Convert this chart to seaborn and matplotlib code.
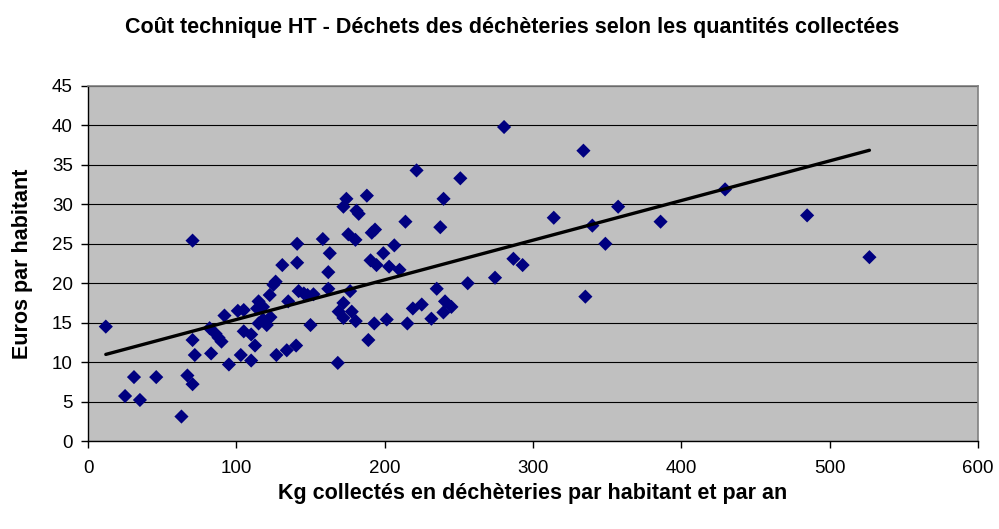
import matplotlib
matplotlib.use("Agg")
import matplotlib.pyplot as plt
import seaborn as sns
import pandas as pd

kg_collectes = [12, 25, 31, 35, 46, 63, 67, 70.5, 70.5, 70.5, 72, 83, 82, 86, 88, 90, 92, 95,
                101, 103, 105, 105, 110, 110, 112.6, 114, 115, 115, 118, 118, 120.5, 122.5, 123,
                125, 126.5, 127, 131, 134, 135, 140.3, 141, 141, 142, 145.5, 148, 150, 152,
                158.3, 162, 162, 163, 168.4, 169, 172.2, 172.2, 172.2, 174.2, 175.5, 176.7,
                177.8, 180.3, 180.5, 181, 182.5, 188, 189, 190.5, 191.3, 193, 193.5, 194.5,
                199.1, 201.4, 203, 206.5, 210, 214, 215.3, 219, 221.5, 225, 231.5, 235.1,
                237.5, 239.7, 239.6, 240.7, 245, 251, 256, 274.4, 280.5, 286.8, 293, 314,
                334, 335.3, 340, 348.8, 357.4, 386, 429.5, 484.8, 526.8]
euros_hab = [14.5, 5.7, 8.1, 5.2, 8.1, 3.1, 8.3, 25.4, 12.8, 7.2, 10.9, 11.1, 14.3, 13.6, 13.1,
             12.6, 15.9, 9.7, 16.5, 10.9, 16.6, 13.9, 13.5, 10.2, 12.1, 16.8, 17.7, 14.9, 17.0,
             15.4, 14.7, 18.5, 15.7, 19.8, 20.2, 10.9, 22.3, 11.5, 17.7, 12.1, 25.0, 22.6,
             19.0, 18.7, 18.5, 14.7, 18.6, 25.6, 19.3, 21.4, 23.8, 9.9, 16.4, 17.5, 15.6,
             29.7, 30.7, 26.2, 19.0, 16.4, 25.5, 15.2, 29.2, 28.8, 31.1, 12.8, 22.9, 26.4,
             14.9, 26.8, 22.3, 23.8, 15.4, 22.1, 24.8, 21.7, 27.8, 14.9, 16.8, 34.3, 17.3,
             15.5, 19.3, 27.1, 30.7, 16.3, 17.7, 17.0, 33.3, 20.0, 20.7, 39.8, 23.1, 22.3,
             28.3, 36.8, 18.3, 27.3, 25.0, 29.7, 27.8, 31.9, 28.6, 23.3]

x_ticks = [0, 100, 200, 300, 400, 500, 600]
y_ticks = [0, 5, 10, 15, 20, 25, 30, 35, 40, 45]

titre = "Coût technique HT - Déchets des déchèteries selon les quantités collectées"
label_x = "Kg collectés en déchèteries par habitant et par an"
label_y = "Euros par habitant"

df = pd.DataFrame({"kg": kg_collectes, "eur": euros_hab})

sns.set_theme(style="white")
plt.rcParams["font.family"] = ["Liberation Sans", "DejaVu Sans"]
plt.rcParams["text.color"] = "black"
plt.rcParams["axes.labelcolor"] = "black"

fig = plt.figure(figsize=(9.99, 5.29), dpi=100)
fig.patch.set_facecolor("white")
ax = fig.add_axes([88 / 999, 1 - 441 / 529, (978 - 88) / 999, (441 - 86) / 529])
ax.set_facecolor("#C0C0C0")

sns.regplot(data=df, x="kg", y="eur", ax=ax, ci=None, truncate=True, marker="D",
            scatter_kws={"color": "#000080", "s": 52, "edgecolors": "none", "alpha": 1,
                         "zorder": 3},
            line_kws={"color": "black", "lw": 2.4, "zorder": 4})

ax.set_xlim(0, 600)
ax.set_ylim(0, 45)
ax.set_xticks(x_ticks)
ax.set_yticks(y_ticks)
ax.yaxis.grid(True, color="black", lw=0.8)
ax.xaxis.grid(False)
ax.set_axisbelow(True)

for side in ["top", "right"]:
    ax.spines[side].set_color("#808080")
    ax.spines[side].set_linewidth(1.2)
for side in ["left", "bottom"]:
    ax.spines[side].set_color("black")
    ax.spines[side].set_linewidth(1.0)

ax.tick_params(axis="both", direction="out", length=5, width=1, color="black",
               labelsize=13.5, labelcolor="black", bottom=True, left=True)
ax.tick_params(axis="x", pad=9)
ax.tick_params(axis="y", pad=6)

ax.set_xlabel(label_x, fontsize=15.5, fontweight="bold", va="center", color="black")
ax.set_ylabel(label_y, fontsize=15.5, fontweight="bold", va="center", color="black")
ax.xaxis.set_label_coords(0.5, (441 - 493) / 355)
ax.yaxis.set_label_coords((23 - 88) / 890, 0.5)
fig.text(512.5 / 999, 1 - 27 / 529, titre, ha="center", va="center", fontsize=15.5,
         fontweight="bold", color="black")

fig.savefig("out.png", dpi=100, facecolor="white")
